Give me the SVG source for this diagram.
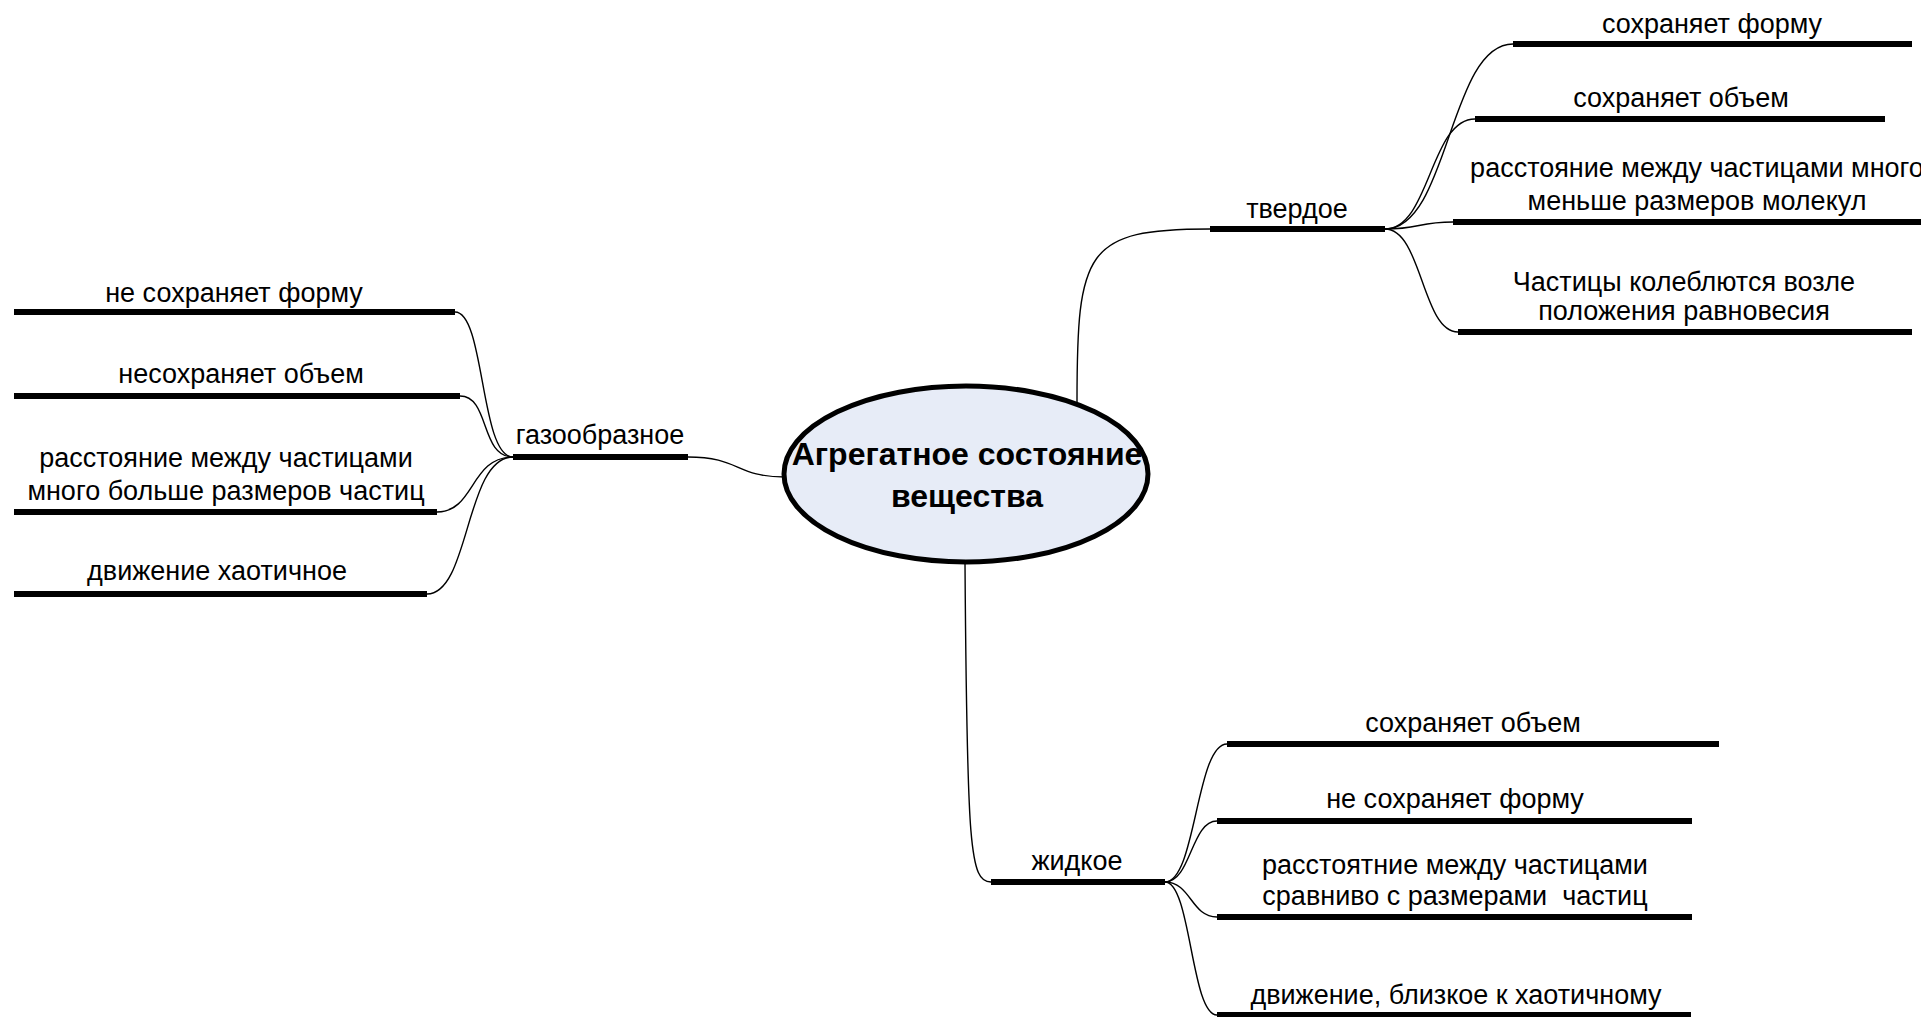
<svg xmlns="http://www.w3.org/2000/svg" width="1921" height="1017" viewBox="0 0 1921 1017">
<style>
text{font-family:"Liberation Sans",Arial,sans-serif;font-size:27px;fill:#000;text-anchor:middle;white-space:pre}
.bar{stroke:#000;stroke-width:6;fill:none}
.c{stroke:#000;stroke-width:1.4;fill:none}
.root{font-size:32px;font-weight:bold}
</style>
<rect width="1921" height="1017" fill="#fff"/>
<g id="connectors">
<path class="c" d="M688,457 C740,457 735,477 785,477"/>
<path class="c" d="M513,457 C480,457 485,312 455,312"/>
<path class="c" d="M513,457 C480,457 490,396 460,396"/>
<path class="c" d="M513,457 C470,457 475,512 437,512"/>
<path class="c" d="M513,457 C465,457 470,594 427,594"/>
<path class="c" d="M1077,402 C1077,250 1085,229 1210,229"/>
<path class="c" d="M1385,229 C1449,229 1449,44 1513,44"/>
<path class="c" d="M1385,229 C1430,229 1430,119 1475,119"/>
<path class="c" d="M1385,229 C1420,229 1418,222 1453,222"/>
<path class="c" d="M1385,229 C1422,229 1422,332 1458,332"/>
<path class="c" d="M965,563 C967,850 970,882 991,882"/>
<path class="c" d="M1165,882 C1196,882 1196,744 1227,744"/>
<path class="c" d="M1165,882 C1191,882 1191,821 1217,821"/>
<path class="c" d="M1165,882 C1191,882 1191,917 1217,917"/>
<path class="c" d="M1165,882 C1191,882 1191,1015 1217,1015"/>
</g>
<g id="root">
<ellipse cx="966" cy="474" rx="182" ry="88" fill="#E7ECF7" stroke="#000" stroke-width="5"/>
<text class="root" x="967" y="465">Агрегатное состояние</text>
<text class="root" x="967" y="507">вещества</text>
</g>
<g id="gas">
<line class="bar" x1="513" y1="457" x2="688" y2="457"/>
<text x="600" y="444">газообразное</text>
</g>
<g id="gas1">
<line class="bar" x1="14" y1="312" x2="455" y2="312"/>
<text x="234" y="302">не сохраняет форму</text>
</g>
<g id="gas2">
<line class="bar" x1="14" y1="396" x2="460" y2="396"/>
<text x="241" y="383">несохраняет объем</text>
</g>
<g id="gas3">
<line class="bar" x1="14" y1="512" x2="437" y2="512"/>
<text x="226" y="467">расстояние между частицами</text>
<text x="226" y="500">много больше размеров частиц</text>
</g>
<g id="gas4">
<line class="bar" x1="14" y1="594" x2="427" y2="594"/>
<text x="217" y="580">движение хаотичное</text>
</g>
<g id="solid">
<line class="bar" x1="1210" y1="229" x2="1385" y2="229"/>
<text x="1297" y="218">твердое</text>
</g>
<g id="solid1">
<line class="bar" x1="1513" y1="44" x2="1912" y2="44"/>
<text x="1712" y="33">сохраняет форму</text>
</g>
<g id="solid2">
<line class="bar" x1="1475" y1="119" x2="1885" y2="119"/>
<text x="1681" y="107">сохраняет объем</text>
</g>
<g id="solid3">
<line class="bar" x1="1453" y1="222" x2="1925" y2="222"/>
<text x="1697" y="177">расстояние между частицами много</text>
<text x="1697" y="210">меньше размеров молекул</text>
</g>
<g id="solid4">
<line class="bar" x1="1458" y1="332" x2="1912" y2="332"/>
<text x="1684" y="291">Частицы колеблются возле</text>
<text x="1684" y="320">положения равновесия</text>
</g>
<g id="liquid">
<line class="bar" x1="991" y1="882" x2="1165" y2="882"/>
<text x="1077" y="870">жидкое</text>
</g>
<g id="liquid1">
<line class="bar" x1="1227" y1="744" x2="1719" y2="744"/>
<text x="1473" y="732">сохраняет объем</text>
</g>
<g id="liquid2">
<line class="bar" x1="1217" y1="821" x2="1692" y2="821"/>
<text x="1455" y="808">не сохраняет форму</text>
</g>
<g id="liquid3">
<line class="bar" x1="1217" y1="917" x2="1692" y2="917"/>
<text x="1455" y="874">расстоятние между частицами</text>
<text x="1455" y="905">сравниво с размерами  частиц</text>
</g>
<g id="liquid4">
<line class="bar" x1="1217" y1="1015" x2="1691" y2="1015"/>
<text x="1456" y="1004">движение, близкое к хаотичному</text>
</g>
</svg>
